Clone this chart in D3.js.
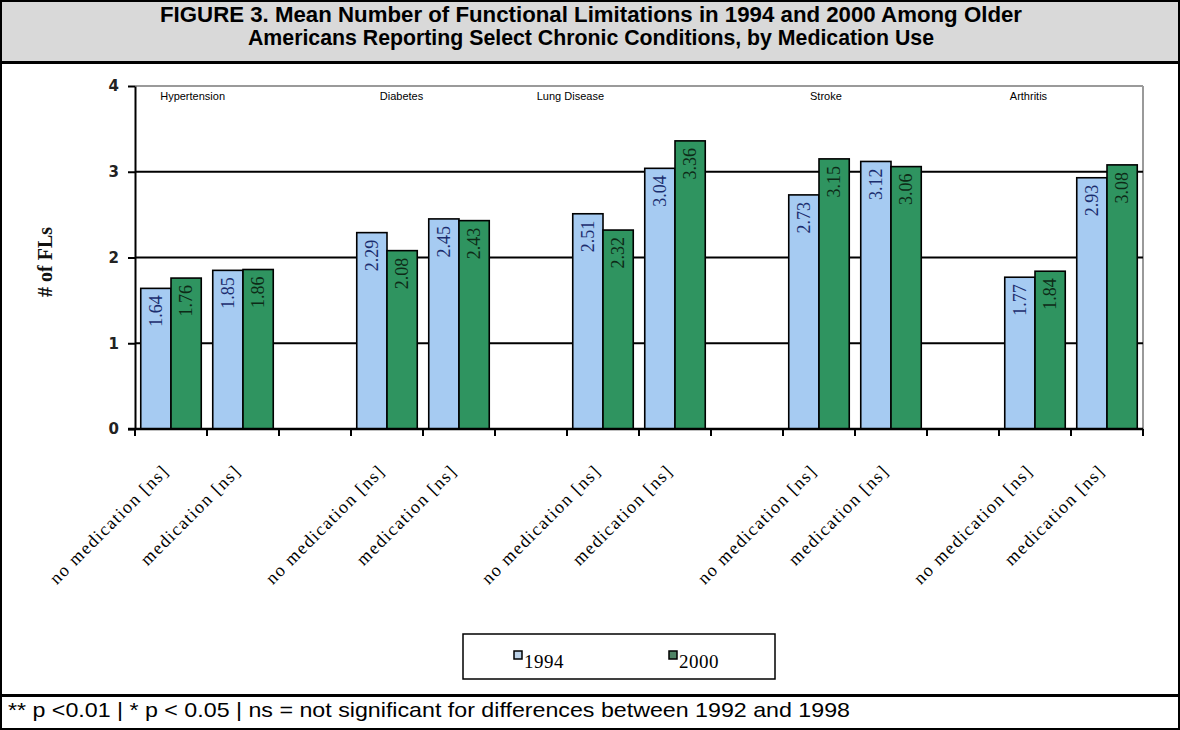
<!DOCTYPE html>
<html>
<head>
<meta charset="utf-8">
<script src="https://cdn.jsdelivr.net/npm/d3@7"></script>
<style>
  html, body { margin: 0; padding: 0; background: #fff; }
  svg { display: block; }
</style>
</head>
<body>
<svg id="chart" width="1180" height="730"></svg>
<script>
// ---------------- data ----------------
const titleLines = [
  "FIGURE 3. Mean Number of Functional Limitations in 1994 and 2000 Among Older",
  "Americans Reporting Select Chronic Conditions, by Medication Use"
];
const footnote = "** p <0.01 | * p < 0.05 | ns = not significant for differences between 1992 and 1998";
const conditions = ["Hypertension", "Diabetes", "Lung Disease", "Stroke", "Arthritis"];
const medGroups = ["no medication [ns]", "medication [ns]"];
const seriesNames = ["1994", "2000"];
// values per condition: [no medication, medication]
const values1994 = [[1.64, 1.85], [2.29, 2.45], [2.51, 3.04], [2.73, 3.12], [1.77, 2.93]];
const values2000 = [[1.76, 1.86], [2.08, 2.43], [2.32, 3.36], [3.15, 3.06], [1.84, 3.08]];
const yTicks = [0, 1, 2, 3, 4];
const yTitle = "# of FLs";
// group label positions, in category-slot units (as placed in the original)
const conditionLabelSlot = [0.35, 3.4, 5.58, 9.375, 12.15];

// ---------------- layout ----------------
const W = 1180, H = 730;
const plot = { left: 135, right: 1143, top: 86, bottom: 429 };
const colors = { "1994": "#a6cbf2", "2000": "#2f9460" };
const legendColors = { "1994": "#bcd2e8", "2000": "#4f8465" };
const labelColors = { "1994": "#1b2d6e", "2000": "#0d2a17" };

const svg = d3.select("#chart");

// Background & frame
svg.append("rect").attr("x", 0).attr("y", 0).attr("width", W).attr("height", H).attr("fill", "#fff");
svg.append("rect").attr("x", 0).attr("y", 0).attr("width", W).attr("height", 62).attr("fill", "#d9d9d9");
svg.append("line").attr("x1", 0).attr("x2", W).attr("y1", 62.5).attr("y2", 62.5).attr("stroke", "#000").attr("stroke-width", 3);
svg.append("line").attr("x1", 0).attr("x2", W).attr("y1", 695.5).attr("y2", 695.5).attr("stroke", "#000").attr("stroke-width", 3);
svg.append("rect").attr("x", 1).attr("y", 1).attr("width", W - 2).attr("height", H - 2)
  .attr("fill", "none").attr("stroke", "#000").attr("stroke-width", 2);

// Title
const titleLens = [862, 686];
svg.selectAll("text.title").data(titleLines).join("text")
  .attr("class", "title")
  .attr("x", W / 2 + 1)
  .attr("y", (d, i) => 22 + i * 23)
  .attr("text-anchor", "middle")
  .attr("font-family", "Liberation Sans, Arial, sans-serif")
  .attr("font-weight", "bold")
  .attr("font-size", 22)
  .attr("textLength", (d, i) => titleLens[i])
  .attr("lengthAdjust", "spacingAndGlyphs")
  .text(d => d);

// Footnote
svg.append("text")
  .attr("x", 8).attr("y", 717)
  .attr("font-family", "Liberation Sans, Arial, sans-serif")
  .attr("font-size", 21)
  .attr("textLength", 842)
  .attr("lengthAdjust", "spacingAndGlyphs")
  .text(footnote);

// ---------------- scales ----------------
// 14 slots: [no-med, med, gap] per condition, last gap dropped
const slots = [];
conditions.forEach((c, ci) => {
  medGroups.forEach((m, mi) => slots.push({ key: c + "|" + m, cond: c, ci, mi, label: m }));
  if (ci < conditions.length - 1) slots.push({ key: c + "|gap", gap: true });
});

const x = d3.scaleBand().domain(slots.map(s => s.key)).range([plot.left, plot.right]).padding(0);
const slotW = x.bandwidth();
const xs = d3.scaleBand().domain(seriesNames).range([0, slotW]).paddingInner(0).paddingOuter(0.19);
const y = d3.scaleLinear().domain([0, 4]).range([plot.bottom, plot.top]);
const slotToPx = d3.scaleLinear().domain([0, slots.length]).range([plot.left, plot.right]);

// plot frame (top & right, grey)
svg.append("line").attr("x1", plot.left).attr("x2", plot.right).attr("y1", y(4)).attr("y2", y(4))
  .attr("stroke", "#9a9a9a").attr("stroke-width", 2);
svg.append("line").attr("x1", plot.right).attr("x2", plot.right).attr("y1", y(4)).attr("y2", y(0))
  .attr("stroke", "#9a9a9a").attr("stroke-width", 2);

// gridlines
svg.selectAll("line.grid").data(yTicks.filter(t => t > 0 && t < 4)).join("line")
  .attr("class", "grid")
  .attr("x1", plot.left).attr("x2", plot.right)
  .attr("y1", d => y(d)).attr("y2", d => y(d))
  .attr("stroke", "#000").attr("stroke-width", 2);

// Condition labels
svg.selectAll("text.cond").data(conditions).join("text")
  .attr("class", "cond")
  .attr("x", (d, i) => slotToPx(conditionLabelSlot[i]))
  .attr("y", 100)
  .attr("font-family", "Liberation Sans, Arial, sans-serif")
  .attr("font-size", 11)
  .attr("fill", "#000")
  .text(d => d);

// Bars
const barData = [];
slots.filter(s => !s.gap).forEach(s => {
  seriesNames.forEach((sn, si) => {
    const v = (si === 0 ? values1994 : values2000)[s.ci][s.mi];
    barData.push({ slot: s.key, series: sn, value: v });
  });
});

const bars = svg.append("g");
bars.selectAll("rect").data(barData).join("rect")
  .attr("x", d => x(d.slot) + xs(d.series))
  .attr("y", d => y(d.value))
  .attr("width", xs.bandwidth())
  .attr("height", d => y(0) - y(d.value))
  .attr("fill", d => colors[d.series])
  .attr("stroke", "#000")
  .attr("stroke-width", 1.6);

// Value labels (rotated)
bars.selectAll("text").data(barData).join("text")
  .attr("transform", d => {
    const cx = x(d.slot) + xs(d.series) + xs.bandwidth() / 2 + 6;
    const ty = y(d.value) + 7;
    return `translate(${cx},${ty}) rotate(-90)`;
  })
  .attr("text-anchor", "end")
  .attr("font-family", "Liberation Serif, Times New Roman, serif")
  .attr("font-size", 18)
  .attr("fill", d => labelColors[d.series])
  .text(d => d.value.toFixed(2));

// Y axis
const yAxis = d3.axisLeft(y).tickValues(yTicks).tickFormat(d3.format("d")).tickSize(7).tickSizeOuter(0);
const gy = svg.append("g").attr("transform", `translate(${plot.left},0)`).call(yAxis);
gy.select(".domain").attr("stroke", "#000").attr("stroke-width", 2);
gy.selectAll(".tick line").attr("stroke", "#000").attr("stroke-width", 2);
gy.selectAll(".tick text")
  .attr("x", -16)
  .attr("font-family", "DejaVu Sans, Verdana, sans-serif")
  .attr("font-size", 15)
  .attr("font-weight", "bold")
  .attr("fill", "#222");

// X axis: ticks at slot boundaries
const boundaries = d3.range(slots.length + 1);
const gx = svg.append("g");
gx.append("line").attr("x1", plot.left - 7).attr("x2", plot.right).attr("y1", y(0)).attr("y2", y(0))
  .attr("stroke", "#000").attr("stroke-width", 2.5);
gx.selectAll("line.tk").data(boundaries).join("line")
  .attr("class", "tk")
  .attr("x1", d => slotToPx(d)).attr("x2", d => slotToPx(d))
  .attr("y1", y(0)).attr("y2", y(0) + 7)
  .attr("stroke", "#000").attr("stroke-width", 2);

// X category labels (rotated 45°)
gx.selectAll("text").data(slots.filter(s => !s.gap)).join("text")
  .attr("transform", d => `translate(${x(d.key) + slotW / 2 - 1},${472}) rotate(-45)`)
  .attr("text-anchor", "end")
  .attr("font-family", "Liberation Serif, Times New Roman, serif")
  .attr("font-size", 18)
  .attr("letter-spacing", 1.4)
  .attr("fill", "#000")
  .text(d => d.label);

// Y axis title
svg.append("text")
  .attr("transform", `translate(52,262) rotate(-90)`)
  .attr("text-anchor", "middle")
  .attr("font-family", "Liberation Serif, Times New Roman, serif")
  .attr("font-size", 20)
  .attr("font-weight", "bold")
  .attr("fill", "#111")
  .text(yTitle);

// Legend
const lg = svg.append("g");
lg.append("rect").attr("x", 463).attr("y", 634).attr("width", 312).attr("height", 45)
  .attr("fill", "#fff").attr("stroke", "#000").attr("stroke-width", 1.5);
const legendX = [514, 669];
const li = lg.selectAll("g.item").data(seriesNames).join("g").attr("class", "item")
  .attr("transform", (d, i) => `translate(${legendX[i]},651)`);
li.append("rect").attr("width", 8).attr("height", 8)
  .attr("fill", d => legendColors[d]).attr("stroke", "#000").attr("stroke-width", 1.5);
li.append("text").attr("x", 10).attr("y", 17)
  .attr("font-family", "Liberation Serif, Times New Roman, serif")
  .attr("font-size", 19)
  .attr("letter-spacing", 0.5)
  .text(d => d);
</script>
</body>
</html>
